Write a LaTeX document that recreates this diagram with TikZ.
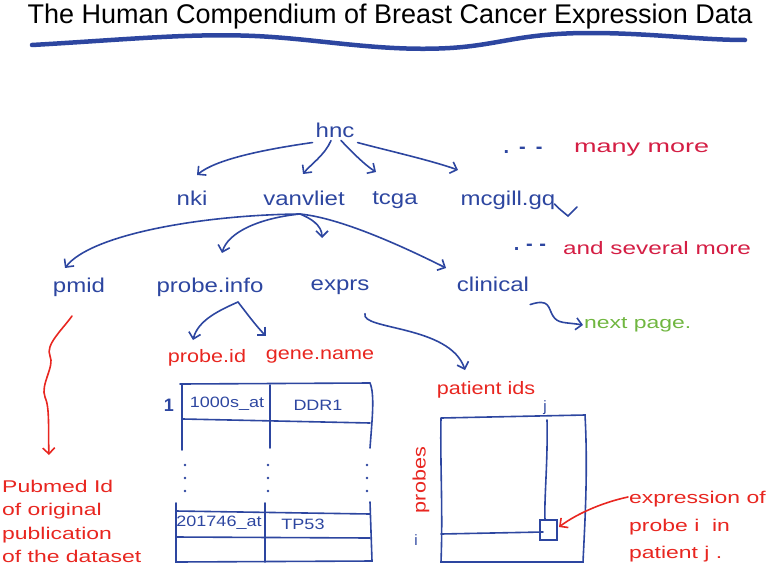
\documentclass[tikz,border=0pt]{standalone}
\usepackage{fontspec}
\setmainfont{Liberation Sans}
\newfontfamily\wideA{Liberation Sans}[FakeStretch=1.2]
\newfontfamily\wideB{Liberation Sans}[FakeStretch=1.35]
\newfontfamily\wideC{Liberation Sans}[FakeStretch=1.5]
\usetikzlibrary{arrows.meta}
\definecolor{pen}{RGB}{45,70,160}
\definecolor{ink}{RGB}{232,38,32}
\definecolor{crim}{RGB}{212,30,68}
\definecolor{grn}{RGB}{112,182,64}
\begin{document}
\begin{tikzpicture}[x=1pt,y=-1pt,
  lbl/.style={text=pen, font=\wideA\fontsize{20}{22}\selectfont, inner sep=1pt},
  rednote/.style={text=crim, font=\wideC\fontsize{18}{20}\selectfont, inner sep=1pt},
  redlbl/.style={text=ink, font=\wideA\fontsize{18}{20}\selectfont, inner sep=1pt},
  cell/.style={text=pen, font=\wideA\fontsize{15}{17}\selectfont, inner sep=1pt},
  arr/.style={draw=pen, line width=1.6pt, line cap=round, -{Straight Barb[length=6pt,width=12pt]}},
  redarr/.style={draw=ink, line width=1.6pt, line cap=round, -{Straight Barb[length=6pt,width=12pt]}},
  tab/.style={draw=pen, line width=1.6pt, line cap=round}
  ]
\useasboundingbox (0,0) rectangle (775,570);
% title
\node[text=black, font=\fontsize{27}{29}\selectfont, inner sep=0pt] (title) at (390,17) {The Human Compendium of Breast Cancer Expression Data};
\draw[pen, line width=4.5pt, line cap=round] (32,45) .. controls (120,40) and (190,33) .. (255,36) .. controls (320,39) and (380,52) .. (450,48) .. controls (500,45) and (520,33) .. (590,33) .. controls (650,33) and (700,40) .. (745,40);
% level 0 / 1
\node[lbl] (hnc) at (335,130) {hnc};
\node[lbl] (nki) at (192,198) {nki};
\node[lbl] (vanvliet) at (304,198) {vanvliet};
\node[lbl] (tcga) at (395,200) {tcga};
\node[lbl] (mcgill) at (508,200) {mcgill.gq};
\coordinate (hook) at (568,216);
\draw[pen, line width=1.6pt, line cap=round] (mcgill.east) ++(-2,4) .. controls (558,208) and (562,211) .. (hook) -- (577,207);
\node[text=pen, font=\fontsize{20}{22}\selectfont\bfseries, inner sep=1pt] (dots1) at (523,150) {.\,\,\,-\,\,\,-};
\node[rednote, anchor=west] (many) at (573,150) {many more};
\draw[arr] (hnc.south west) ++(-2,4) .. controls (260,150) and (215,160) .. (197,175);
\draw[arr] (hnc.south) ++(-4,2) .. controls (325,155) and (310,165) .. (303,174);
\draw[arr] (hnc.south) ++(6,2) .. controls (355,155) and (365,165) .. (376,172);
\draw[arr] (hnc.south east) ++(2,4) .. controls (385,150) and (430,160) .. (458,170);
% level 2
\node[lbl] (pmid) at (79,287) {pmid};
\node[lbl] (probeinfo) at (210,287) {probe.info};
\node[lbl] (exprs) at (340,287) {exprs};
\node[lbl] (clinical) at (493,284) {clinical};
\node[text=pen, font=\fontsize{20}{22}\selectfont\bfseries, inner sep=1pt] (dots2) at (530,247) {.\,\,-\,\,-};
\node[rednote, anchor=west, font=\wideB\fontsize{18}{20}\selectfont] (several) at (562,248) {and several more};
\coordinate (vv) at (300,214);
\draw[arr] (vv) .. controls (200,215) and (90,235) .. (65,268);
\draw[arr] (vv) .. controls (260,218) and (228,232) .. (222,253);
\draw[arr] (vv) .. controls (310,218) and (322,225) .. (322,238);
\draw[arr] (vv) .. controls (340,218) and (400,245) .. (446,268);
% next page
\node[text=grn, font=\wideB\fontsize{17}{19}\selectfont, inner sep=1pt, anchor=west] (nextpage) at (583,325) {next page.};
\draw[arr] (clinical.south east) ++(0,12) .. controls (550,298) and (548,308) .. (553,316) .. controls (558,324) and (565,322) .. (nextpage.west);
% probe.info children
\node[redlbl] (probeid) at (207,358) {probe.id};
\node[redlbl] (genename) at (320,357) {gene.name};
\coordinate (pi) at (238,302);
\draw[arr] (pi) .. controls (220,310) and (198,320) .. (193,340);
\draw[arr] (pi) .. controls (248,315) and (257,327) .. (266,336);
% table
\draw[tab] (180,384) -- (370,383);
\draw[tab] (182,384) -- (182,450);
\draw[tab] (270,385) -- (270,448);
\draw[tab] (370,383) .. controls (375,395) and (372,420) .. (370,448);
\draw[tab] (183,419) -- (370,423);
\node[cell, font=\fontsize{18}{20}\selectfont\bfseries] (one) at (169,405) {1};
\node[cell] (c11) at (227,404) {1000s\_at};
\node[cell] (c12) at (318,405) {DDR1};
\foreach \xx in {185,268,367} \foreach \yy in {465,478,491} \fill[pen] (\xx,\yy) circle (1.3pt);
\draw[tab] (176,503) -- (176,562) -- (372,561) -- (370,502);
\draw[tab] (265,503) -- (265,562);
\draw[tab] (176,511) -- (370,514);
\draw[tab] (176,537) -- (370,538);
\node[cell] (c21) at (219,523) {201746\_at};
\node[cell] (c22) at (303,524) {TP53};
% exprs arrow
\node[redlbl] (patientids) at (486,390) {patient ids};
\draw[arr] (exprs.south) ++(25,18) .. controls (360,330) and (450,325) .. (465,370);
% matrix
\node[cell, font=\fontsize{15}{17}\selectfont] (j) at (545,408) {j};
\node[cell, font=\fontsize{15}{17}\selectfont] (i) at (416,540) {i};
\draw[tab] (441,418) -- (585,415) .. controls (588,470) and (585,520) .. (583,562) -- (441,562) .. controls (443,510) and (440,460) .. (441,418);
\draw[tab] (547,420) .. controls (548,460) and (544,500) .. (545,520);
\draw[tab] (441,534) -- (543,532);
\draw[tab] (540,520) rectangle (557,540);
\node[text=ink, font=\wideA\fontsize{18}{20}\selectfont, rotate=90, inner sep=1pt] (probes) at (421,480) {probes};
\node[redlbl, anchor=west, align=left, font=\wideB\fontsize{17}{27.5}\selectfont] (expr) at (628,527) {expression of\\probe i \ in\\patient j .};
\draw[redarr] (628,497) .. controls (600,503) and (575,515) .. (559,527);
% pmid note
\node[redlbl, anchor=north west, align=left, font=\wideB\fontsize{17}{23.3}\selectfont] (pubmed) at (1,479) {Pubmed Id\\of original\\publication\\of the dataset};
\draw[redarr] (72,316) .. controls (62,330) and (45,345) .. (50,356) .. controls (55,366) and (40,385) .. (45,397) .. controls (50,408) and (48,430) .. (49,455);
\end{tikzpicture}
\end{document}
